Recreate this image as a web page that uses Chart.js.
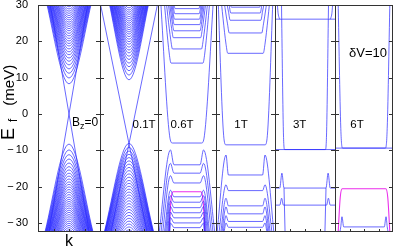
<!DOCTYPE html>
<html>
<head>
<meta charset="utf-8">
<script src="https://cdn.jsdelivr.net/npm/chart.js@4/dist/chart.umd.min.js"></script>
<style>
  html, body { margin: 0; padding: 0; background: #fff; }
  #wrap { position: relative; width: 395px; height: 250px; overflow: hidden; }
  #wrap canvas { position: absolute; top: 0; }
</style>
</head>
<body>
<div id="wrap"></div>
<script>
// ---- axes ----
const yTicks = [-30, -20, -10, 0, 10, 20, 30];
const kTicks = [-0.5, 0, 0.5];
const eMin = -32.5, eMax = 30;
const eOut = 34;   // bands are carried past the frame and clipped there
const fieldLabels = ['B_z=0', '0.1T', '0.6T', '1T', '3T', '6T'];

// ---- panel 1 : Bz = 0 ----
const p1CondEdges = [8.3, 9.9, 11.2, 12.4, 13.5, 14.5, 15.4, 16.3, 17.1, 17.9, 18.7, 19.4, 20.1, 20.8,
  21.5, 22.2, 22.9, 23.5, 24.1, 24.7, 25.3, 25.9, 26.5, 27.1, 27.7, 28.3, 28.9, 29.5];
const p1CondReach = [0.82, 0.81, 0.80, 0.79, 0.78, 0.77, 0.76, 0.75, 0.73, 0.72, 0.71, 0.70, 0.69, 0.67,
  0.66, 0.64, 0.63, 0.61, 0.60, 0.58, 0.57, 0.55, 0.53, 0.51, 0.49, 0.47, 0.45, 0.42];
const p1ValEdges = [-8.3, -9.9, -11.2, -12.4, -13.5, -14.5, -15.4, -16.3, -17.1, -17.9, -18.7, -19.4, -20.1, -20.8,
  -21.5, -22.2, -22.9, -23.5, -24.1, -24.7, -25.3, -25.9, -26.5, -27.1, -27.7, -28.3, -28.9, -29.5, -30.1, -30.7, -31.3, -31.9];
const p1ValReach = [0.82, 0.81, 0.80, 0.79, 0.78, 0.77, 0.76, 0.75, 0.73, 0.72, 0.71, 0.70, 0.69, 0.67,
  0.66, 0.64, 0.63, 0.61, 0.60, 0.58, 0.57, 0.55, 0.53, 0.51, 0.49, 0.47, 0.45, 0.42, 0.40, 0.37, 0.34, 0.31];
const p1Dirac = [[[-0.68, 34], [0.68, -34]], [[0.68, 34], [-0.68, -34]]];

// ---- panel 2 : 0.1 T ----
const p2CondEdges = [9.4, 10.7, 11.9, 13.0, 14.0, 15.0, 15.9, 16.8, 17.6, 18.4, 19.2, 19.9, 20.6, 21.3,
  22.0, 22.6, 23.2, 23.8, 24.4, 25.0, 25.6, 26.2, 26.8, 27.4, 28.0, 28.6, 29.2, 29.8];
const p2CondReach = [0.78, 0.77, 0.76, 0.75, 0.74, 0.73, 0.72, 0.71, 0.69, 0.68, 0.67, 0.66, 0.65, 0.63,
  0.62, 0.61, 0.59, 0.58, 0.57, 0.55, 0.53, 0.52, 0.50, 0.48, 0.46, 0.44, 0.42, 0.39];
const p2ValEdges = [-8.1, -9.2, -10.2, -11.1, -12.0, -12.9, -13.8, -14.7, -15.6, -16.5, -17.4, -18.3, -19.1, -19.9,
  -20.7, -21.5, -22.3, -23.1, -23.9, -24.7, -25.5, -26.3, -27.1, -27.9, -28.7, -29.5, -30.3, -31.1, -31.9];
const p2ValReach = [0.90, 0.89, 0.88, 0.88, 0.87, 0.86, 0.85, 0.84, 0.82, 0.81, 0.80, 0.78, 0.77, 0.75,
  0.74, 0.72, 0.70, 0.68, 0.66, 0.64, 0.61, 0.59, 0.56, 0.53, 0.50, 0.46, 0.42, 0.37, 0.32];
const p2Dirac = [[[-1.08, 34], [0.66, -34]], [[1.08, 34], [-0.66, -34]]];

// ---- panel 3 : 0.6 T ----
const p3Zero = [[-0.93, 34], [-0.6, -6], [-0.5, -8], [0.5, -8], [0.6, -6], [0.93, 34]];
const p3CondEdges = [14.0, 17.9, 21.0, 22.9, 24.6, 26.1, 27.6, 29.0];
const p3CondFlat = [0.55, 0.50, 0.47, 0.45, 0.44, 0.43, 0.42, 0.41];
const p3CondReach = [0.82, 0.76, 0.70, 0.66, 0.62, 0.58, 0.55, 0.52];
const p3ValMid = [-14.0, -16.3, -19.0, -22.8, -24.3, -25.8, -27.2, -28.6, -30.0, -31.3];
const p3ValHump = [-9.9, -13.6, -17.0, -21.0, -22.5, -24.0, -25.5, -27.0, -28.5, -30.0];
const p3ValReach = [0.98, 0.92, 0.86, 0.80, 0.76, 0.72, 0.68, 0.65, 0.62, 0.60];
const p3Magenta = [[-0.63, -34], [-0.55, -23.5], [-0.48, -21.4], [0.48, -21.4], [0.55, -23.5], [0.63, -34]];

// ---- panel 4 : 1 T ----
const p4Zero = [[-0.94, 34], [-0.74, -6], [-0.66, -8.5], [0.66, -8.5], [0.74, -6], [0.94, 34]];
const p4CondEdges = [16.7, 22.3, 25.8, 27.8, 29.4];
const p4CondFlat = [0.60, 0.55, 0.52, 0.50, 0.48];
const p4CondReach = [0.86, 0.78, 0.72, 0.68, 0.64];
const p4ValMid = [-16.8, -21.1, -25.3, -27.5, -29.6, -31.2];
const p4ValHump = [-11.3, -19.5, -23.2, -25.6, -28.0, -30.0];
const p4ValReach = [0.98, 0.92, 0.86, 0.82, 0.78, 0.75];

// ---- panel 5 : 3 T ----
const p5Curves = [
  [[-1, -9.8], [1, -9.8]],
  [[-0.79, 34], [-0.72, -5], [-0.68, -9.8], [0.68, -9.8], [0.72, -5], [0.79, 34]],
  [[-1, 26.1], [1, 26.1]],
  [[-0.95, 34], [-0.9, 28], [-0.85, 26.1]],
  [[0.95, 34], [0.9, 28], [0.85, 26.1]],
  [[-1, -20.4], [-0.84, -20.4], [-0.77, -16.3], [-0.7, -20.4], [0.7, -20.4], [0.77, -16.3], [0.84, -20.4], [1, -20.4]],
  [[-0.7, -20.4], [-0.66, -34]],
  [[0.7, -20.4], [0.66, -34]],
  [[-1, -25.1], [-0.84, -25.1], [-0.78, -23.2], [-0.72, -25.1], [0.72, -25.1], [0.78, -23.2], [0.84, -25.1], [1, -25.1]]
];

// ---- panel 6 : 6 T ----
const p6Curves = [
  [[-1, -9.4], [1, -9.4]],
  [[-0.9, 34], [-0.8, -4], [-0.74, -9.4], [0.74, -9.4], [0.8, -4], [0.9, 34]],
  [[-0.86, -34], [-0.8, -31], [-0.76, -28.3], [-0.7, -31.1], [0.7, -31.1], [0.76, -28.3], [0.8, -31], [0.86, -34]]
];
const p6Magenta = [[-0.9, -34], [-0.82, -23], [-0.75, -20.6], [0.75, -20.6], [0.82, -23], [0.9, -34]];

// ---- curve builders (turn the read values into point lists) ----
function vBand(edge, reach) {
  const out = edge > 0 ? eOut : -eOut;
  return [[-reach, out], [0, edge], [reach, out]];
}
function shelf(edge, flat, reach) {
  return [[-reach, eOut], [-(flat + 0.06), edge + 2.5], [-flat, edge], [flat, edge], [flat + 0.06, edge + 2.5], [reach, eOut]];
}
function camel(mid, hump, reach, humpK, flat) {
  return [[-reach, -eOut], [-humpK, hump], [-flat, mid], [flat, mid], [humpK, hump], [reach, -eOut]];
}

const panels = [
  { blue: [
      ...p1CondEdges.map((e, i) => vBand(e, p1CondReach[i])),
      ...p1ValEdges.map((e, i) => vBand(e, p1ValReach[i])),
      ...p1Dirac], magenta: [] },
  { blue: [
      ...p2CondEdges.map((e, i) => vBand(e, p2CondReach[i])),
      ...p2ValEdges.map((e, i) => vBand(e, p2ValReach[i])),
      ...p2Dirac], magenta: [] },
  { blue: [p3Zero,
      ...p3CondEdges.map((e, i) => shelf(e, p3CondFlat[i], p3CondReach[i])),
      ...p3ValMid.map((m, i) => camel(m, p3ValHump[i], p3ValReach[i], 0.57, 0.45))], magenta: [p3Magenta] },
  { blue: [p4Zero,
      ...p4CondEdges.map((e, i) => shelf(e, p4CondFlat[i], p4CondReach[i])),
      ...p4ValMid.map((m, i) => camel(m, p4ValHump[i], p4ValReach[i], 0.66, 0.58))], magenta: [] },
  { blue: p5Curves, magenta: [] },
  { blue: p6Curves, magenta: [p6Magenta] }
];

// ---- layout ----
const FONT = '"Liberation Sans", Arial, Helvetica, sans-serif';
const edges = [38, 100, 158, 216, 275, 335, 393];
const labelSpots = [
  { k: 0.10, e: -3.3, align: 'left', parts: [{ t: 'B', s: 12 }, { t: 'z', s: 9, dy: 3 }, { t: '=0', s: 12 }] },
  { k: 0.52, e: -3.8, align: 'center', parts: [{ t: fieldLabels[1], s: 11.5 }] },
  { k: -0.17, e: -3.8, align: 'center', parts: [{ t: fieldLabels[2], s: 11.5 }] },
  { k: -0.15, e: -3.8, align: 'center', parts: [{ t: fieldLabels[3], s: 11.5 }] },
  { k: -0.18, e: -3.8, align: 'center', parts: [{ t: fieldLabels[4], s: 11.5 }] },
  { k: -0.24, e: -3.8, align: 'center', parts: [{ t: fieldLabels[5], s: 11.5 }] }
];
const extraText = { k: 0.14, e: 15.6, align: 'center', parts: [{ t: '\u03b4V=10', s: 13 }] };
const yTitleParts = [{ t: 'E', s: 18 }, { gap: 6 }, { t: 'f', s: 12, dy: 3 }, { gap: 13 }, { t: '(meV)', s: 15 }];

function drawParts(ctx, parts, x, y, align) {
  let w = 0;
  parts.forEach(p => {
    if (p.t) { ctx.font = p.s + 'px ' + FONT; p.w = ctx.measureText(p.t).width; } else p.w = p.gap;
    w += p.w;
  });
  let cx = align === 'center' ? x - w / 2 : x;
  ctx.textAlign = 'left';
  ctx.textBaseline = 'alphabetic';
  parts.forEach(p => {
    if (p.t) { ctx.font = p.s + 'px ' + FONT; ctx.fillText(p.t, cx, y + (p.dy || 0)); }
    cx += p.w;
  });
}

const framePlugin = {
  id: 'frame',
  afterDraw(chart, args, opts) {
    const { ctx, chartArea: a, scales: { x, y } } = chart;
    ctx.save();
    ctx.strokeStyle = '#333';
    ctx.lineWidth = 1;
    ctx.beginPath();
    ctx.moveTo(a.left + 0.5, a.bottom - 0.5); ctx.lineTo(a.left + 0.5, a.top + 0.5);
    ctx.lineTo(a.right, a.top + 0.5);
    ctx.moveTo(a.left, a.bottom - 0.5); ctx.lineTo(a.right, a.bottom - 0.5);
    if (opts.last) { ctx.moveTo(a.right - 0.5, a.top); ctx.lineTo(a.right - 0.5, a.bottom); }
    yTicks.forEach(v => {
      const py = Math.round(y.getPixelForValue(v)) + 0.5;
      ctx.moveTo(a.left, py); ctx.lineTo(a.left + 4, py);
      ctx.moveTo(a.right - 4, py); ctx.lineTo(a.right, py);
    });
    kTicks.forEach(v => {
      const px = Math.round(x.getPixelForValue(v)) + 0.5;
      ctx.moveTo(px, a.bottom); ctx.lineTo(px, a.bottom - 3);
    });
    ctx.stroke();

    ctx.fillStyle = '#000';
    (opts.texts || []).forEach(t => {
      drawParts(ctx, t.parts, x.getPixelForValue(t.k), y.getPixelForValue(t.e), t.align);
    });
    if (opts.yTitle) {
      // rotated title, reading upwards, starting just below the zero line
      ctx.translate(13.5, 140);
      ctx.rotate(-Math.PI / 2);
      drawParts(ctx, yTitleParts, 0, 0, 'left');
    }
    ctx.restore();
  }
};

const wrap = document.getElementById('wrap');
panels.forEach((p, i) => {
  const left = i === 0 ? 0 : edges[i] - 2;
  const width = edges[i + 1] + 2 - left;
  const cv = document.createElement('canvas');
  cv.style.left = left + 'px';
  cv.style.width = width + 'px';
  cv.style.height = '250px';
  cv.width = width;
  cv.height = 250;
  wrap.appendChild(cv);

  const mk = (pts, color, w) => ({
    data: pts.map(([k, e]) => ({ x: k, y: e })),
    showLine: true,
    borderColor: color,
    borderWidth: w,
    pointRadius: 0,
    cubicInterpolationMode: 'monotone',
    clip: 0
  });
  const datasets = [
    ...p.blue.map(c => mk(c, 'rgb(40,40,255)', 0.7)),
    ...p.magenta.map(c => mk(c, 'rgb(235,45,235)', 1.1))
  ];
  const texts = [labelSpots[i]];
  if (i === 5) texts.push(extraText);
  const first = i === 0;

  new Chart(cv.getContext('2d'), {
    type: 'scatter',
    data: { datasets },
    options: {
      animation: false,
      responsive: false,
      devicePixelRatio: 1,
      events: [],
      elements: { line: { capBezierPoints: false } },
      layout: { padding: { top: 5, left: first ? 0 : 2, right: 2, bottom: 0 } },
      plugins: {
        legend: { display: false },
        tooltip: { enabled: false },
        frame: { texts, last: i === 5, yTitle: first }
      },
      scales: {
        x: {
          type: 'linear', min: -1, max: 1,
          grid: { display: false }, border: { display: false },
          ticks: { display: false },
          title: { display: first, text: 'k', color: '#000', font: { family: FONT, size: 16 }, padding: { top: 0, bottom: -1 } },
          afterFit: s => { s.height = 18; s.paddingLeft = 0; s.paddingRight = 0; }
        },
        y: {
          type: 'linear', min: eMin, max: eMax,
          display: first,
          grid: { display: false }, border: { display: false },
          afterBuildTicks: s => { s.ticks = yTicks.map(v => ({ value: v })); },
          ticks: {
            color: '#000', padding: 2,
            font: { family: FONT, size: 11 },
            callback: v => String(v).replace('-', '\u2212\u2009')
          },
          afterFit: s => { s.width = first ? 38 : 0; s.paddingTop = 0; s.paddingBottom = 0; }
        }
      }
    },
    plugins: [framePlugin]
  });
});
</script>
</body>
</html>
